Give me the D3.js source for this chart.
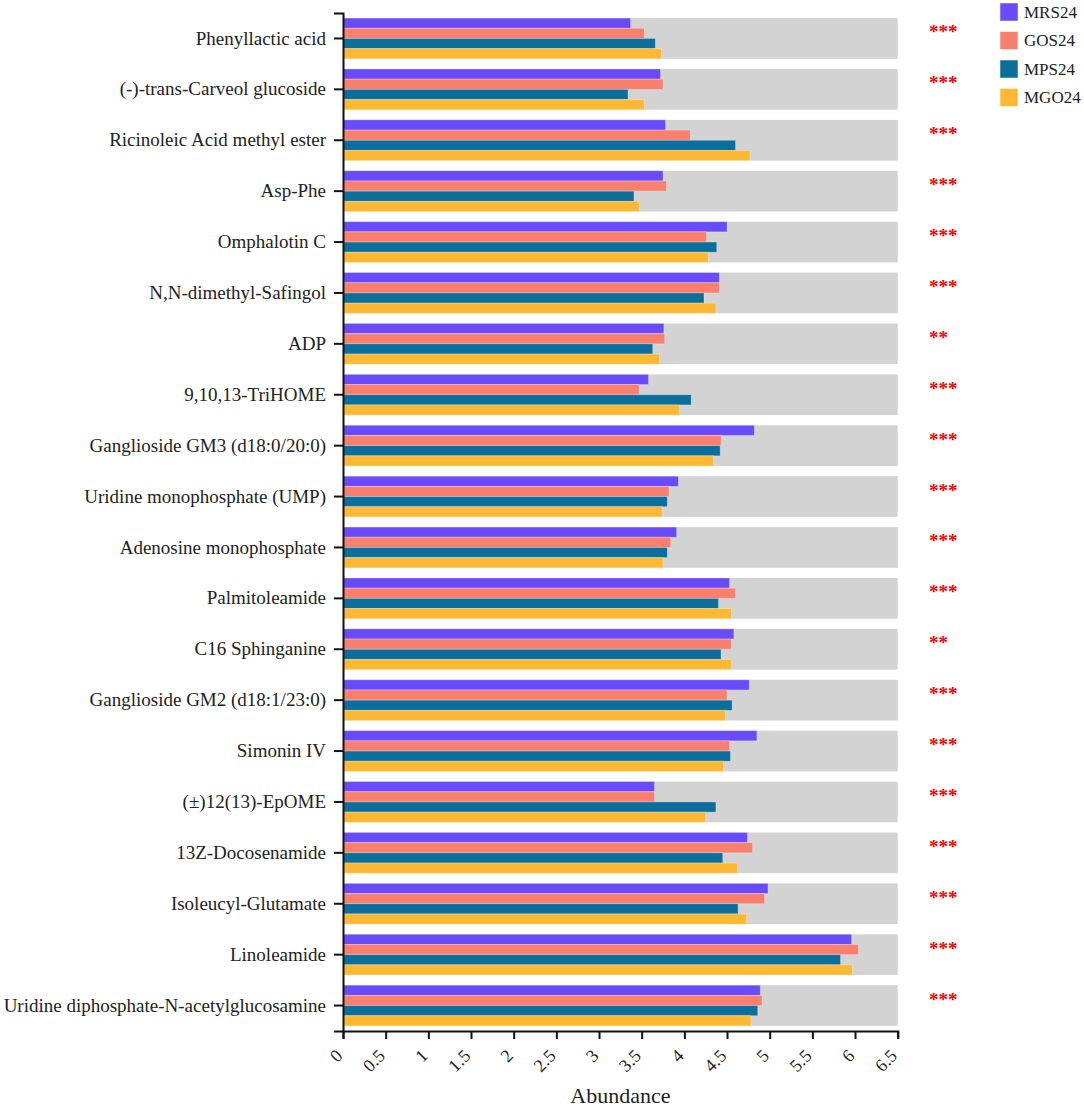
<!DOCTYPE html>
<html>
<head>
<meta charset="utf-8">
<script src="https://cdn.jsdelivr.net/npm/d3@7"></script>
<style>
  body { margin: 0; background: #fff; }
  svg text { font-family: "Liberation Serif", "Times New Roman", serif; }
</style>
</head>
<body>
<script>
// data
const metabolites = [
  "Phenyllactic acid", "(-)-trans-Carveol glucoside", "Ricinoleic Acid methyl ester", "Asp-Phe",
  "Omphalotin C", "N,N-dimethyl-Safingol", "ADP", "9,10,13-TriHOME",
  "Ganglioside GM3 (d18:0/20:0)", "Uridine monophosphate (UMP)", "Adenosine monophosphate", "Palmitoleamide",
  "C16 Sphinganine", "Ganglioside GM2 (d18:1/23:0)", "Simonin IV", "(\u00b1)12(13)-EpOME",
  "13Z-Docosenamide", "Isoleucyl-Glutamate", "Linoleamide", "Uridine diphosphate-N-acetylglucosamine"
];
const groups = ["MRS24", "GOS24", "MPS24", "MGO24"];
const mrs24 = [3.37, 3.72, 3.78, 3.75, 4.50, 4.41, 3.76, 3.58, 4.82, 3.93, 3.91, 4.53, 4.58, 4.76, 4.85, 3.65, 4.74, 4.98, 5.96, 4.89];
const gos24 = [3.53, 3.75, 4.07, 3.79, 4.26, 4.41, 3.77, 3.47, 4.43, 3.82, 3.84, 4.60, 4.55, 4.50, 4.53, 3.65, 4.80, 4.94, 6.04, 4.91];
const mps24 = [3.66, 3.34, 4.60, 3.41, 4.38, 4.23, 3.63, 4.08, 4.42, 3.80, 3.80, 4.40, 4.43, 4.56, 4.54, 4.37, 4.45, 4.63, 5.83, 4.86];
const mgo24 = [3.73, 3.53, 4.77, 3.47, 4.28, 4.37, 3.71, 3.94, 4.34, 3.74, 3.75, 4.55, 4.55, 4.48, 4.46, 4.25, 4.62, 4.73, 5.97, 4.78];
const signif = ["***", "***", "***", "***", "***", "***", "**", "***", "***", "***",
                "***", "***", "**", "***", "***", "***", "***", "***", "***", "***"];
const xTicks = [0, 0.5, 1, 1.5, 2, 2.5, 3, 3.5, 4, 4.5, 5, 5.5, 6, 6.5];
const xMax = 6.5;

const colors = ["#6a4bfc", "#fa7f6d", "#0b6e9d", "#ffb834"];
const series = [mrs24, gos24, mps24, mgo24];

const W = 1084, H = 1108;
const margin = {top: 13, left: 343, right: 187, bottom: 77};

const svg = d3.select("body").append("svg")
  .attr("width", W).attr("height", H);

const x = d3.scaleLinear().domain([0, xMax]).range([margin.left, W - margin.right + 0.7]);
const y = d3.scaleBand().domain(metabolites).range([margin.top, H - margin.bottom])
  .paddingInner(0.2).paddingOuter(0.1);
const yIn = d3.scaleBand().domain(groups).range([0, y.bandwidth()]);

// grey background bars
svg.append("g").selectAll("rect")
  .data(metabolites).join("rect")
  .attr("x", x(0))
  .attr("y", d => y(d))
  .attr("width", x(xMax) - x(0))
  .attr("height", y.bandwidth())
  .attr("fill", "#d3d3d3");

// group bars
const rows = svg.append("g").selectAll("g")
  .data(metabolites).join("g")
  .attr("transform", d => "translate(0," + y(d) + ")");

rows.selectAll("rect")
  .data((d, i) => groups.map((g, k) => ({g: g, v: series[k][i], c: colors[k]})))
  .join("rect")
  .attr("x", x(0))
  .attr("y", d => yIn(d.g))
  .attr("width", d => x(d.v) - x(0))
  .attr("height", yIn.bandwidth())
  .attr("fill", d => d.c)
  .attr("stroke", "rgba(255,255,255,0.35)")
  .attr("stroke-width", 0.8);

// significance stars
svg.append("g").selectAll("text")
  .data(metabolites).join("text")
  .attr("x", 929)
  .attr("y", d => y(d) + y.bandwidth() / 2)
  .attr("fill", "#ff0000")
  .attr("font-size", "19px")
  .attr("font-weight", "bold")
  .text((d, i) => signif[i]);

// y axis
const yAxis = svg.append("g")
  .attr("transform", "translate(" + margin.left + ",0)")
  .call(d3.axisLeft(y).tickSize(9).tickPadding(8));
yAxis.selectAll("text").attr("font-size", "19px").attr("fill", "#222")
  .style("font-family", "'Liberation Serif', serif");

// x axis
const xAxis = svg.append("g")
  .attr("transform", "translate(0," + (H - margin.bottom) + ")")
  .call(d3.axisBottom(x).tickValues(xTicks).tickFormat(d3.format("")).tickSize(8));
xAxis.selectAll("text")
  .attr("font-size", "18px").attr("fill", "#222")
  .style("font-family", "'Liberation Serif', serif")
  .style("text-anchor", "end")
  .attr("x", 0).attr("y", 0).attr("dy", 0)
  .attr("transform", "translate(0,26) rotate(-45)");

svg.selectAll(".domain, .tick line").attr("stroke", "#111").attr("stroke-width", 2);

svg.append("text")
  .attr("x", (x(0) + x(xMax)) / 2)
  .attr("y", 1103)
  .attr("text-anchor", "middle")
  .attr("font-size", "22px")
  .attr("fill", "#222")
  .text("Abundance");

// legend
const legend = svg.append("g").selectAll("g")
  .data(groups).join("g")
  .attr("transform", (d, i) => "translate(1000," + (3 + i * 28.5) + ")");
legend.append("rect")
  .attr("width", 18).attr("height", 18)
  .attr("fill", (d, i) => colors[i])
  .attr("stroke", "rgba(255,255,255,0.5)");
legend.append("text")
  .attr("x", 24).attr("y", 9)
  .attr("dy", "0.35em")
  .attr("font-size", "17px")
  .attr("fill", "#222")
  .text(d => d);
</script>
</body>
</html>
